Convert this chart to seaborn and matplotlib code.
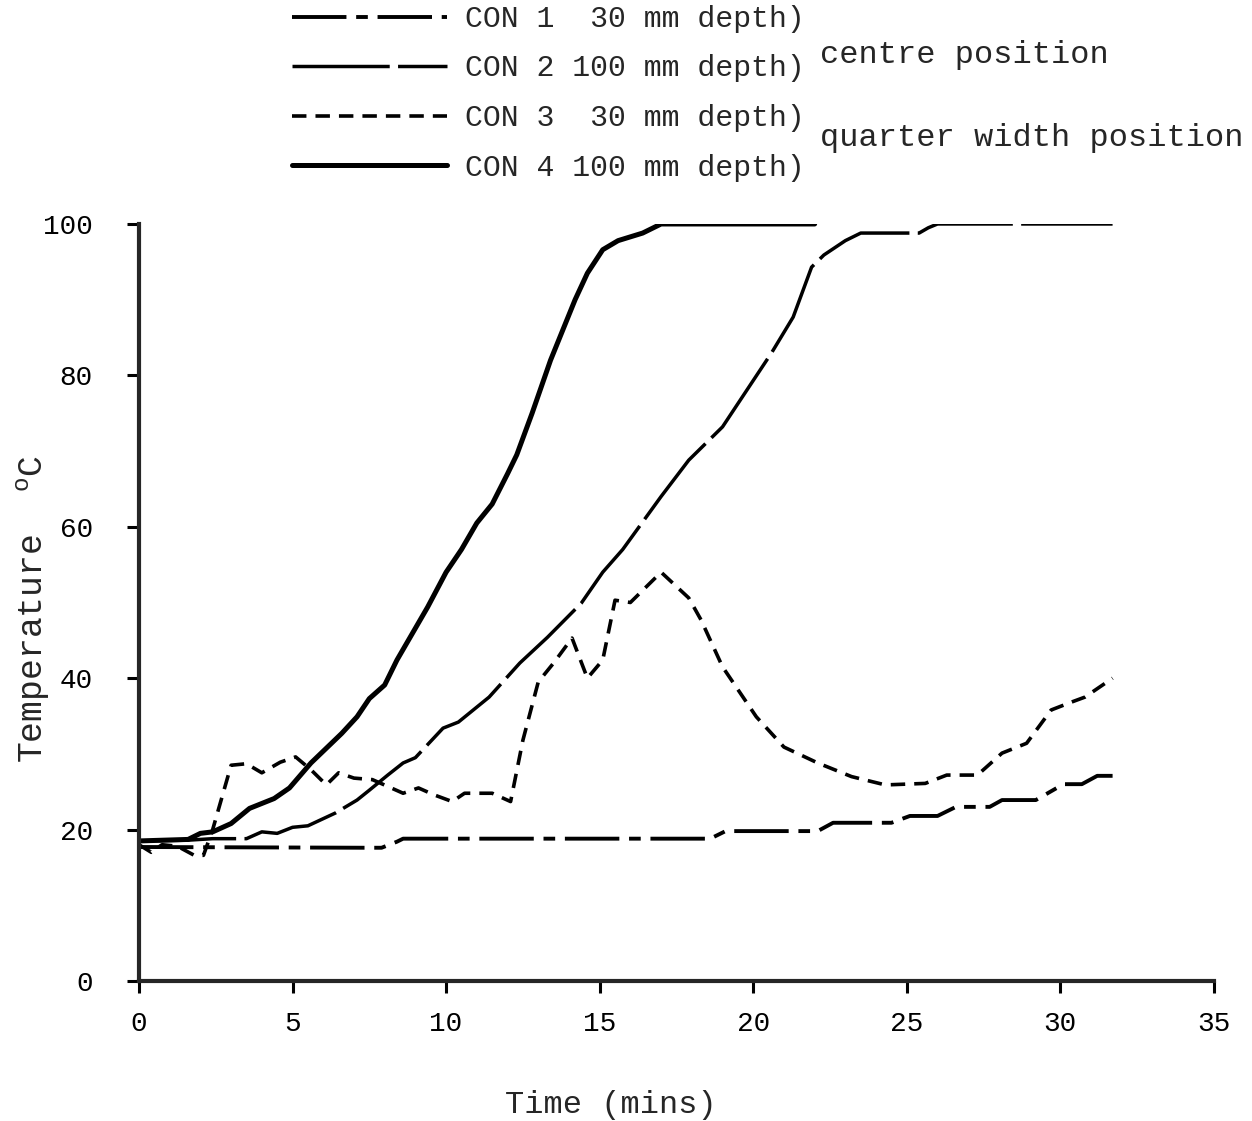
import pandas as pd
import matplotlib
matplotlib.use('Agg')
import matplotlib.pyplot as plt
import seaborn as sns

# Daten - Zeit in min, Temperatur in °C
t_con1 = [0, 7.4, 7.9, 8.4, 8.6, 18.6, 19.1, 22.1, 22.6, 24.5, 25.1, 26.0, 26.6,
          27.7, 28.1, 29.2, 30.1, 30.7, 31.2, 31.7]
T_con1 = [17.7, 17.6, 17.6, 18.4, 18.8, 18.8, 19.8, 19.8, 20.9, 20.9, 21.8, 21.8, 23,
          23, 23.9, 23.9, 26, 26, 27.1, 27.1]

t_con2 = [0, 1.6, 2.4, 3.5, 4.0, 4.5, 5.0, 5.5, 6.4, 7.1, 7.5, 8.1, 8.6, 9.0, 9.9,
          10.4, 11.4, 12.4, 13.3, 14.4, 15.1, 15.75, 17.0, 17.9, 19.0, 20.6, 21.3,
          21.9, 22.3, 23.0, 23.5, 25.4, 25.7, 26.0, 31.7]
T_con2 = [18.5, 18.6, 18.8, 18.8, 19.7, 19.5, 20.3, 20.5, 22.2, 23.9, 25.2, 27.2, 28.8,
          29.5, 33.4, 34.2, 37.5, 42, 45.4, 49.9, 54, 57, 64, 68.8, 73.2, 83, 87.7,
          94.3, 95.9, 97.8, 98.8, 98.8, 99.5, 100, 100]

t_con3 = [0, 0.4, 0.75, 1.25, 1.8, 2.1, 2.4, 3.0, 3.5, 4.0, 4.6, 5.1, 5.6, 6.1, 6.5,
          7.0, 7.6, 8.1, 8.6, 9.1, 9.6, 10.2, 10.6, 11.5, 12.1, 12.5, 13.0, 13.5,
          14.1, 14.6, 15.1, 15.5, 16.0, 17.0, 17.9, 18.3, 19.0, 20.1, 21.0, 22.1,
          23.2, 24.3, 25.6, 26.3, 27.3, 28.1, 28.9, 29.7, 30.4, 30.8, 31.7]
T_con3 = [18, 17, 18, 17.8, 16.6, 16.6, 20, 28.5, 28.7, 27.5, 28.9, 29.6, 27.9, 25.9,
          27.5, 26.8, 26.6, 25.7, 24.8, 25.5, 24.6, 23.7, 24.8, 24.8, 23.7, 31.8,
          39.5, 42, 45.3, 40, 42.4, 50.3, 50, 54, 50.6, 47.7, 41.5, 34.9, 30.9, 28.8,
          27, 25.9, 26.1, 27.2, 27.2, 30.1, 31.4, 35.8, 36.9, 37.5, 40]

t_con4 = [0, 1.6, 2.0, 2.4, 3.0, 3.6, 4.4, 4.9, 5.6, 6.6, 7.1, 7.5, 8.0, 8.4, 9.4,
          10.0, 10.5, 11.0, 11.5, 12.0, 12.3, 12.8, 13.4, 14.2, 14.6, 15.1, 15.6,
          16.0, 16.4, 17.0, 22.0]
T_con4 = [18.5, 18.7, 19.5, 19.7, 20.8, 22.8, 24.1, 25.5, 28.8, 32.7, 34.9, 37.3, 39.1,
          42.4, 49.4, 54, 57, 60.5, 63, 67, 69.5, 75, 82, 90, 93.5, 96.6, 97.8, 98.3,
          98.8, 100, 100]

labels = ['CON 1  30 mm depth)', 'CON 2 100 mm depth)',
          'CON 3  30 mm depth)', 'CON 4 100 mm depth)']
x_ticks = [0, 5, 10, 15, 20, 25, 30, 35]
y_ticks = [0, 20, 40, 60, 80, 100]

df = pd.concat([
    pd.DataFrame({'time': t, 'temp': T, 'series': name})
    for t, T, name in zip([t_con1, t_con2, t_con3, t_con4],
                          [T_con1, T_con2, T_con3, T_con4], labels)
], ignore_index=True)

sns.set_style('ticks')
plt.rcParams['font.family'] = ['Liberation Mono', 'DejaVu Sans Mono']
plt.rcParams['mathtext.fontset'] = 'custom'
plt.rcParams['mathtext.rm'] = 'Liberation Mono'
plt.rcParams['mathtext.it'] = 'Liberation Mono'

fig = plt.figure(figsize=(12.52, 11.21), dpi=100)
ax = fig.add_axes([0.1110, 0.1249, 0.8586, 0.6753])

dash_styles = {labels[0]: (14, 2.5, 3, 2.5), labels[1]: (28, 2.4),
               labels[2]: (4, 2.5), labels[3]: ''}
line_sizes = {labels[0]: 2.8, labels[1]: 2.5, labels[2]: 2.6, labels[3]: 3.6}

sns.lineplot(data=df, x='time', y='temp', style='series', size='series',
             style_order=labels, size_order=labels, dashes=dash_styles,
             sizes=line_sizes, color='black', estimator=None, sort=False,
             legend=False, ax=ax)

ax.set_xlim(0, 35)
ax.set_ylim(0, 100)
ax.set_xticks(x_ticks)
ax.set_yticks(y_ticks)
sns.despine(ax=ax)
for side in ['left', 'bottom']:
    ax.spines[side].set_linewidth(3)
ax.tick_params(axis='both', length=8.6, width=2.2, labelsize=20, colors='black')
ax.tick_params(axis='y', pad=24.5)
ax.tick_params(axis='x', pad=13)

ax.set_xlabel('Time (mins)', fontsize=23)
ax.xaxis.set_label_coords(0.439, -0.144)
ax.set_ylabel('Temperature  $^{\\mathrm{o}}$C', fontsize=25)
ax.yaxis.set_label_coords(-0.081, 0.491)

# Legende oben
fig.legend(ax.get_lines()[:4], labels, loc='upper left',
           bbox_to_anchor=(292 / 1252, 1 - 5 / 1121), frameon=False,
           fontsize=21.5, handlelength=5.2, handletextpad=0.6,
           labelspacing=0.72, borderpad=0, borderaxespad=0)

fig.text(820 / 1252, 1 - 55 / 1121, 'centre position', fontsize=23,
         ha='left', va='center')
fig.text(820 / 1252, 1 - 138 / 1121, 'quarter width position', fontsize=23,
         ha='left', va='center')

fig.savefig('out.png', dpi=100)
